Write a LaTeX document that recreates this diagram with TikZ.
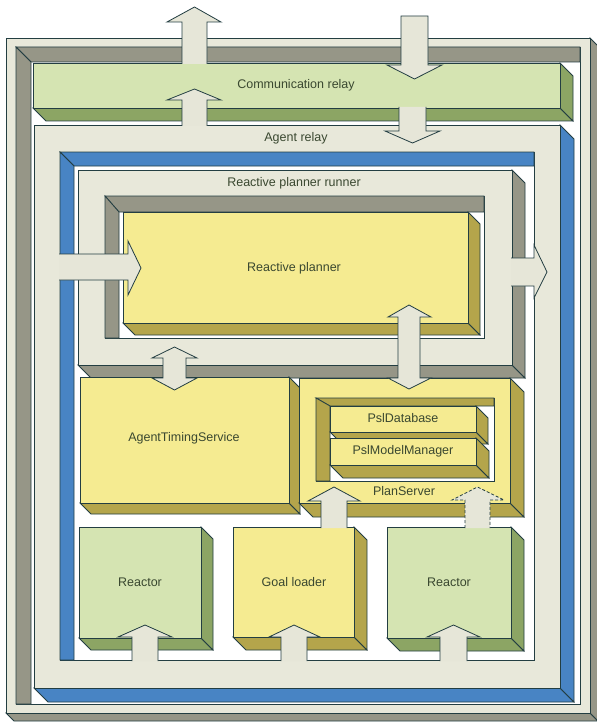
\documentclass[tikz,border=0pt]{standalone}
\usepackage{fontspec}
\setmainfont{Liberation Sans}
\definecolor{bfront}{RGB}{232,232,218}
\definecolor{gside}{RGB}{150,150,135}
\definecolor{lgreen}{RGB}{213,228,178}
\definecolor{dgreen}{RGB}{140,165,100}
\definecolor{bside}{RGB}{72,132,196}
\definecolor{yfront}{RGB}{245,235,145}
\definecolor{oside}{RGB}{180,165,75}
\definecolor{olc}{RGB}{35,62,66}
\definecolor{txc}{RGB}{58,72,48}
\definecolor{afill}{RGB}{230,230,216}
\tikzset{
  olin/.style={draw=olc, line width=0.8bp, line join=miter},
  blk/.style={draw=olc, fill=afill, line width=0.8bp, line join=miter},
  lbl/.style={text=txc, font=\fontsize{12.5bp}{15bp}\selectfont, inner sep=0pt}
}
\newcommand{\SolidBox}[7]{%
  \filldraw[olin, fill=#7] (#1,#4) -- (#3,#4) -- (#3+#5,#4+#5) -- (#1+#5,#4+#5) -- cycle;
  \filldraw[olin, fill=#7] (#3,#2) -- (#3+#5,#2+#5) -- (#3+#5,#4+#5) -- (#3,#4) -- cycle;
  \filldraw[olin, fill=#6] (#1,#2) rectangle (#3,#4);
}
\newcommand{\HoleWalls}[7]{%
  \filldraw[olin, fill=white] (#1,#2) rectangle (#3,#4);
  \filldraw[olin, fill=#7] (#1,#2) -- (#3,#2) -- (#3,#2+#6) -- (#1+#5,#2+#6) -- cycle;
  \filldraw[olin, fill=#7] (#1,#2) -- (#1+#5,#2+#6) -- (#1+#5,#4) -- (#1,#4) -- cycle;
}
\begin{document}
\begin{tikzpicture}[x=1bp,y=-1bp]
\useasboundingbox (0,0) rectangle (597,722);
% outer frame
\SolidBox{6}{38}{590}{713}{8}{bfront}{gside}
\HoleWalls{16}{47}{580}{704}{15}{15}{gside}
% communication relay
\SolidBox{33}{63}{560}{108}{13}{lgreen}{dgreen}
% agent relay
\SolidBox{34}{125}{560}{688}{14}{bfront}{bside}
\HoleWalls{60}{152}{534}{660}{14}{14}{bside}
% reactive planner runner
\SolidBox{78}{170}{512}{365}{13}{bfront}{gside}
\HoleWalls{105}{196}{484}{338}{14}{16}{gside}
% reactive planner
\SolidBox{123}{212}{468}{323}{12}{yfront}{oside}
% agent timing service
\SolidBox{80}{377}{289}{503}{11}{yfront}{oside}
% plan server
\SolidBox{299}{378}{510}{503}{14}{yfront}{oside}
\HoleWalls{316}{398}{494}{481}{14}{8}{oside}
\SolidBox{330}{406}{476}{432}{12}{yfront}{oside}
\SolidBox{330}{438}{476}{465}{13}{yfront}{oside}
% bottom boxes
\SolidBox{79}{527}{201}{638}{12}{lgreen}{dgreen}
\SolidBox{233}{527}{354}{637}{13}{yfront}{oside}
\SolidBox{387}{527}{511}{638}{13}{lgreen}{dgreen}
% labels
\node[lbl] (comm) at (296,85) {Communication relay};
\node[lbl] (agent) at (296,138) {Agent relay};
\node[lbl] (runner) at (294,183) {Reactive planner runner};
\node[lbl] (rp) at (294,268) {Reactive planner};
\node[lbl] (ats) at (184,438) {AgentTimingService};
\node[lbl] (psldb) at (403,418) {PslDatabase};
\node[lbl] (pslmm) at (403,451) {PslModelManager};
\node[lbl] (ps) at (404,491) {PlanServer};
\node[lbl] (reactorL) at (140,582) {Reactor};
\node[lbl] (goal) at (294,582) {Goal loader};
\node[lbl] (reactorR) at (449,582) {Reactor};
% block arrows
\filldraw[blk] (182,64) -- (182,22) -- (167,22) -- (194.5,7) -- (221,22) -- (207,22) -- (207,64);
\filldraw[blk] (182,126) -- (182,100) -- (167,100) -- (194.5,89) -- (221,100) -- (207,100) -- (207,126);
\filldraw[blk] (401,16) -- (428,16) -- (428,65) -- (442,65) -- (414.5,79) -- (387,65) -- (401,65) -- cycle;
\filldraw[blk] (399,107) -- (399,131) -- (385,131) -- (412.5,143) -- (440,131) -- (426,131) -- (426,107);
\filldraw[blk] (59,254) -- (128,254) -- (128,241) -- (141,268) -- (128,295) -- (128,280) -- (59,280);
\filldraw[blk] (511,258) -- (534,258) -- (534,245) -- (547,272) -- (534,298) -- (534,286) -- (511,286);
\filldraw[blk] (163,358) -- (152,358) -- (174.5,347) -- (197,358) -- (186,358) -- (186,378) -- (197,378) -- (174.5,390) -- (152,378) -- (163,378) -- cycle;
\filldraw[blk] (398,317) -- (388,317) -- (409,305) -- (431,317) -- (420,317) -- (420,378) -- (431,378) -- (409,389) -- (388,378) -- (398,378) -- cycle;
\filldraw[blk] (321,528) -- (321,501) -- (308,501) -- (334,487) -- (360,501) -- (347,501) -- (347,528);
\filldraw[blk, dash pattern=on 3bp off 2bp] (465,528) -- (465,500) -- (452,500) -- (477.5,487) -- (504,500) -- (490,500) -- (490,528);
\filldraw[blk] (132,661) -- (132,637) -- (118,637) -- (145,625) -- (172,637) -- (158,637) -- (158,661);
\filldraw[blk] (281,661) -- (281,637) -- (269,637) -- (294,625) -- (320,637) -- (307,637) -- (307,661);
\filldraw[blk] (440,661) -- (440,637) -- (427,637) -- (453.5,625) -- (480,637) -- (467,637) -- (467,661);
\end{tikzpicture}
\end{document}
